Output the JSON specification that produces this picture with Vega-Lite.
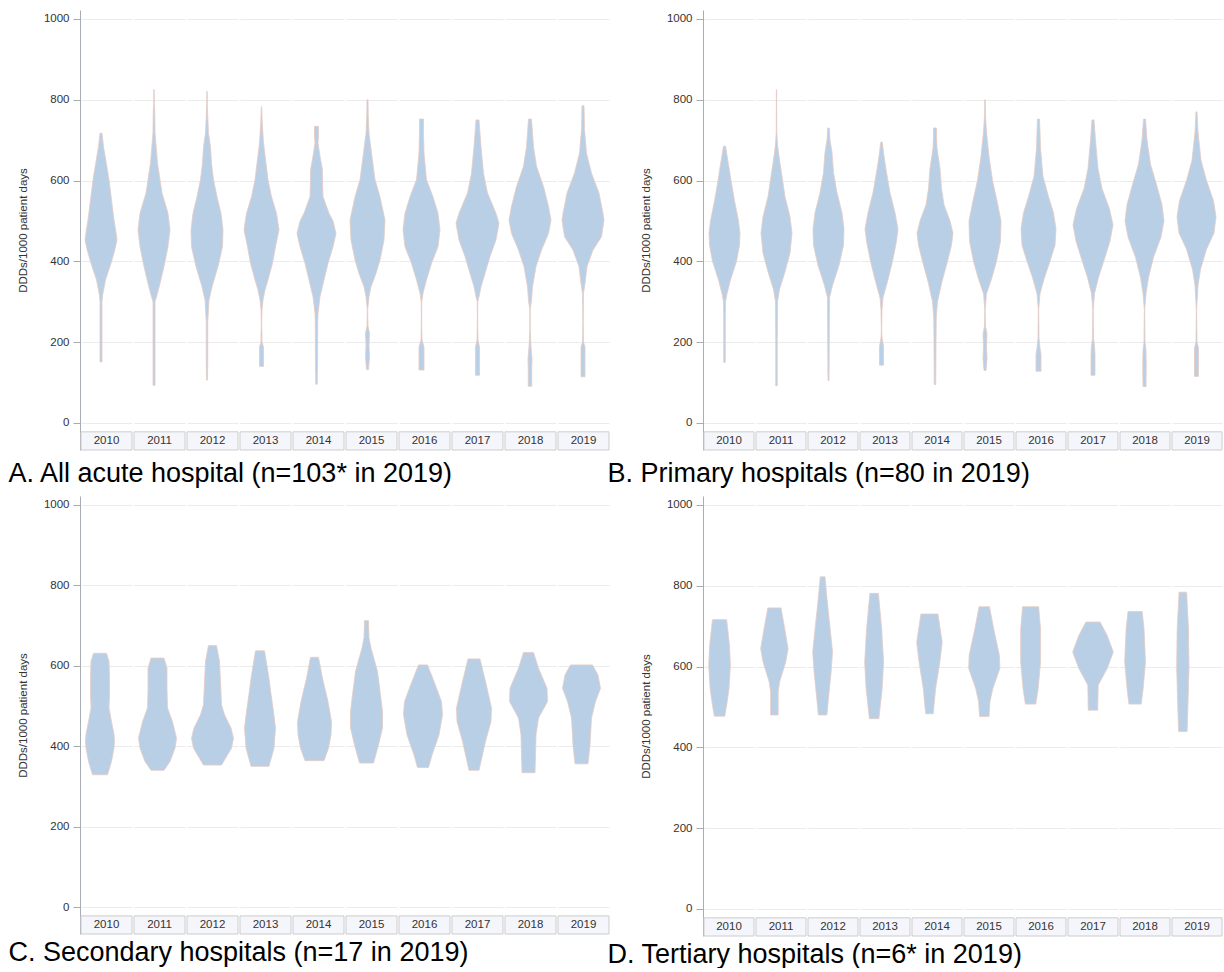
{
  "$schema": "https://vega.github.io/schema/vega-lite/v6.json",
  "padding": {"left": 8, "top": 10, "right": 0, "bottom": 0},
  "background": "white",
  "config": {
    "view": {"stroke": null},
    "axis": {"labelFont": "Liberation Sans", "labelFontSize": 11.5, "labelColor": "#333333", "titleFont": "Liberation Sans", "titleFontSize": 11.5, "titleFontWeight": "normal", "titleColor": "#333333", "domainColor": "#a8adb3", "tickColor": "#a8adb3", "tickSize": 7, "labelPadding": 4, "titlePadding": 15, "gridColor": "#ebebeb"},
    "title": {"font": "Liberation Sans", "fontSize": 27, "fontWeight": "normal", "color": "#000000"}
  },
  "datasets": {
    "A": [
      {"year":2010,"v":151,"w":2},{"year":2010,"v":200,"w":2},{"year":2010,"v":250,"w":2},{"year":2010,"v":300,"w":2},{"year":2010,"v":315,"w":3},{"year":2010,"v":354,"w":9},{"year":2010,"v":380,"w":16},{"year":2010,"v":403,"w":22},{"year":2010,"v":430,"w":28},{"year":2010,"v":453,"w":32},{"year":2010,"v":480,"w":29},{"year":2010,"v":502,"w":26},{"year":2010,"v":552,"w":21},{"year":2010,"v":602,"w":16},{"year":2010,"v":640,"w":11},{"year":2010,"v":684,"w":5},{"year":2010,"v":717,"w":2},
      {"year":2011,"v":93,"w":2},{"year":2011,"v":200,"w":2},{"year":2011,"v":300,"w":2},{"year":2011,"v":304,"w":3},{"year":2011,"v":321,"w":7},{"year":2011,"v":345,"w":12},{"year":2011,"v":387,"w":20},{"year":2011,"v":436,"w":28},{"year":2011,"v":478,"w":32},{"year":2011,"v":519,"w":28},{"year":2011,"v":569,"w":16},{"year":2011,"v":602,"w":12},{"year":2011,"v":643,"w":7},{"year":2011,"v":688,"w":4},{"year":2011,"v":720,"w":2},{"year":2011,"v":771,"w":1.5},{"year":2011,"v":790,"w":0.5},{"year":2011,"v":825,"w":0.3},
      {"year":2012,"v":106,"w":1},{"year":2012,"v":150,"w":1.5},{"year":2012,"v":250,"w":1.5},{"year":2012,"v":304,"w":4},{"year":2012,"v":337,"w":10},{"year":2012,"v":387,"w":22},{"year":2012,"v":436,"w":31},{"year":2012,"v":478,"w":32},{"year":2012,"v":519,"w":28},{"year":2012,"v":560,"w":20},{"year":2012,"v":602,"w":13},{"year":2012,"v":643,"w":9},{"year":2012,"v":684,"w":7},{"year":2012,"v":717,"w":3},{"year":2012,"v":759,"w":1.5},{"year":2012,"v":790,"w":0.5},{"year":2012,"v":821,"w":0.3},
      {"year":2013,"v":140,"w":4},{"year":2013,"v":155,"w":4},{"year":2013,"v":188,"w":4},{"year":2013,"v":200,"w":1},{"year":2013,"v":222,"w":1},{"year":2013,"v":240,"w":0.3},{"year":2013,"v":280,"w":1},{"year":2013,"v":304,"w":3},{"year":2013,"v":329,"w":7},{"year":2013,"v":354,"w":13},{"year":2013,"v":395,"w":22},{"year":2013,"v":436,"w":28},{"year":2013,"v":478,"w":35},{"year":2013,"v":519,"w":30},{"year":2013,"v":560,"w":20},{"year":2013,"v":602,"w":13},{"year":2013,"v":643,"w":9},{"year":2013,"v":693,"w":4},{"year":2013,"v":742,"w":1.5},{"year":2013,"v":783,"w":0.3},
      {"year":2014,"v":96,"w":1.5},{"year":2014,"v":150,"w":2},{"year":2014,"v":250,"w":2.5},{"year":2014,"v":271,"w":3},{"year":2014,"v":312,"w":7},{"year":2014,"v":354,"w":15},{"year":2014,"v":395,"w":23},{"year":2014,"v":436,"w":33},{"year":2014,"v":469,"w":39},{"year":2014,"v":500,"w":33},{"year":2014,"v":519,"w":25},{"year":2014,"v":560,"w":13},{"year":2014,"v":600,"w":12},{"year":2014,"v":626,"w":12},{"year":2014,"v":660,"w":7},{"year":2014,"v":693,"w":3},{"year":2014,"v":710,"w":4},{"year":2014,"v":734,"w":4},
      {"year":2015,"v":132,"w":2},{"year":2015,"v":164,"w":4},{"year":2015,"v":190,"w":3},{"year":2015,"v":222,"w":4},{"year":2015,"v":240,"w":1},{"year":2015,"v":280,"w":0.3},{"year":2015,"v":312,"w":3},{"year":2015,"v":337,"w":7},{"year":2015,"v":370,"w":17},{"year":2015,"v":403,"w":25},{"year":2015,"v":453,"w":33},{"year":2015,"v":502,"w":35},{"year":2015,"v":560,"w":25},{"year":2015,"v":602,"w":15},{"year":2015,"v":668,"w":8},{"year":2015,"v":717,"w":3},{"year":2015,"v":760,"w":1.5},{"year":2015,"v":800,"w":1},
      {"year":2016,"v":131,"w":5},{"year":2016,"v":160,"w":5},{"year":2016,"v":188,"w":5},{"year":2016,"v":205,"w":1},{"year":2016,"v":250,"w":0.3},{"year":2016,"v":300,"w":0.5},{"year":2016,"v":321,"w":3},{"year":2016,"v":354,"w":10},{"year":2016,"v":395,"w":20},{"year":2016,"v":436,"w":33},{"year":2016,"v":478,"w":37},{"year":2016,"v":519,"w":33},{"year":2016,"v":560,"w":23},{"year":2016,"v":602,"w":10},{"year":2016,"v":668,"w":5},{"year":2016,"v":720,"w":4},{"year":2016,"v":752,"w":4},
      {"year":2017,"v":118,"w":4},{"year":2017,"v":150,"w":4},{"year":2017,"v":188,"w":4},{"year":2017,"v":205,"w":1},{"year":2017,"v":250,"w":0.3},{"year":2017,"v":300,"w":0.5},{"year":2017,"v":312,"w":3},{"year":2017,"v":337,"w":7},{"year":2017,"v":370,"w":15},{"year":2017,"v":412,"w":25},{"year":2017,"v":453,"w":37},{"year":2017,"v":494,"w":43},{"year":2017,"v":519,"w":37},{"year":2017,"v":569,"w":20},{"year":2017,"v":618,"w":12},{"year":2017,"v":684,"w":7},{"year":2017,"v":750,"w":3},
      {"year":2018,"v":91,"w":3.5},{"year":2018,"v":130,"w":3.5},{"year":2018,"v":160,"w":4},{"year":2018,"v":188,"w":2},{"year":2018,"v":230,"w":0.3},{"year":2018,"v":280,"w":0.3},{"year":2018,"v":304,"w":3},{"year":2018,"v":337,"w":5},{"year":2018,"v":387,"w":12},{"year":2018,"v":428,"w":23},{"year":2018,"v":469,"w":37},{"year":2018,"v":502,"w":42},{"year":2018,"v":536,"w":37},{"year":2018,"v":585,"w":27},{"year":2018,"v":635,"w":13},{"year":2018,"v":684,"w":7},{"year":2018,"v":752,"w":3},
      {"year":2019,"v":114,"w":4},{"year":2019,"v":150,"w":4},{"year":2019,"v":188,"w":4},{"year":2019,"v":200,"w":1},{"year":2019,"v":250,"w":0.3},{"year":2019,"v":321,"w":1},{"year":2019,"v":345,"w":4},{"year":2019,"v":387,"w":8},{"year":2019,"v":428,"w":20},{"year":2019,"v":461,"w":37},{"year":2019,"v":502,"w":42},{"year":2019,"v":519,"w":40},{"year":2019,"v":569,"w":32},{"year":2019,"v":618,"w":17},{"year":2019,"v":668,"w":7},{"year":2019,"v":726,"w":3},{"year":2019,"v":785,"w":2}
    ],
    "B": [
      {"year":2010,"v":150,"w":1.5},{"year":2010,"v":250,"w":1.5},{"year":2010,"v":300,"w":2},{"year":2010,"v":320,"w":5},{"year":2010,"v":354,"w":12},{"year":2010,"v":400,"w":24},{"year":2010,"v":440,"w":30},{"year":2010,"v":470,"w":31},{"year":2010,"v":500,"w":28},{"year":2010,"v":550,"w":20},{"year":2010,"v":600,"w":13},{"year":2010,"v":640,"w":8},{"year":2010,"v":685,"w":2},
      {"year":2011,"v":92,"w":1.5},{"year":2011,"v":200,"w":1.5},{"year":2011,"v":300,"w":2},{"year":2011,"v":330,"w":6},{"year":2011,"v":370,"w":16},{"year":2011,"v":420,"w":27},{"year":2011,"v":470,"w":31},{"year":2011,"v":510,"w":27},{"year":2011,"v":560,"w":17},{"year":2011,"v":610,"w":11},{"year":2011,"v":660,"w":5},{"year":2011,"v":690,"w":2},{"year":2011,"v":720,"w":0.5},{"year":2011,"v":825,"w":0.3},
      {"year":2012,"v":105,"w":1},{"year":2012,"v":200,"w":1.5},{"year":2012,"v":310,"w":2},{"year":2012,"v":340,"w":8},{"year":2012,"v":390,"w":21},{"year":2012,"v":440,"w":30},{"year":2012,"v":480,"w":31},{"year":2012,"v":520,"w":27},{"year":2012,"v":570,"w":17},{"year":2012,"v":620,"w":10},{"year":2012,"v":670,"w":7},{"year":2012,"v":700,"w":3},{"year":2012,"v":730,"w":1.5},
      {"year":2013,"v":143,"w":4},{"year":2013,"v":160,"w":4},{"year":2013,"v":190,"w":4},{"year":2013,"v":210,"w":1},{"year":2013,"v":230,"w":0.3},{"year":2013,"v":280,"w":1},{"year":2013,"v":310,"w":3},{"year":2013,"v":350,"w":12},{"year":2013,"v":400,"w":22},{"year":2013,"v":450,"w":30},{"year":2013,"v":480,"w":33},{"year":2013,"v":520,"w":27},{"year":2013,"v":570,"w":17},{"year":2013,"v":620,"w":10},{"year":2013,"v":660,"w":5},{"year":2013,"v":695,"w":1.5},
      {"year":2014,"v":95,"w":1.5},{"year":2014,"v":200,"w":2},{"year":2014,"v":260,"w":2.5},{"year":2014,"v":300,"w":5},{"year":2014,"v":350,"w":14},{"year":2014,"v":400,"w":25},{"year":2014,"v":440,"w":33},{"year":2014,"v":470,"w":36},{"year":2014,"v":500,"w":30},{"year":2014,"v":540,"w":18},{"year":2014,"v":580,"w":13},{"year":2014,"v":630,"w":10},{"year":2014,"v":680,"w":4},{"year":2014,"v":710,"w":3},{"year":2014,"v":730,"w":3},
      {"year":2015,"v":130,"w":2},{"year":2015,"v":160,"w":4},{"year":2015,"v":190,"w":3},{"year":2015,"v":220,"w":4},{"year":2015,"v":240,"w":1},{"year":2015,"v":280,"w":0.3},{"year":2015,"v":320,"w":3},{"year":2015,"v":360,"w":14},{"year":2015,"v":400,"w":23},{"year":2015,"v":450,"w":31},{"year":2015,"v":500,"w":32},{"year":2015,"v":550,"w":24},{"year":2015,"v":600,"w":15},{"year":2015,"v":660,"w":8},{"year":2015,"v":720,"w":3},{"year":2015,"v":760,"w":1},{"year":2015,"v":800,"w":0.5},
      {"year":2016,"v":128,"w":5},{"year":2016,"v":170,"w":5},{"year":2016,"v":185,"w":3},{"year":2016,"v":210,"w":1},{"year":2016,"v":280,"w":0.3},{"year":2016,"v":320,"w":3},{"year":2016,"v":360,"w":12},{"year":2016,"v":400,"w":23},{"year":2016,"v":440,"w":33},{"year":2016,"v":480,"w":35},{"year":2016,"v":520,"w":30},{"year":2016,"v":560,"w":20},{"year":2016,"v":610,"w":9},{"year":2016,"v":680,"w":4},{"year":2016,"v":720,"w":3},{"year":2016,"v":752,"w":2},
      {"year":2017,"v":118,"w":4},{"year":2017,"v":170,"w":4},{"year":2017,"v":190,"w":3},{"year":2017,"v":210,"w":1},{"year":2017,"v":280,"w":0.3},{"year":2017,"v":320,"w":3},{"year":2017,"v":360,"w":11},{"year":2017,"v":410,"w":24},{"year":2017,"v":450,"w":34},{"year":2017,"v":490,"w":40},{"year":2017,"v":530,"w":33},{"year":2017,"v":580,"w":18},{"year":2017,"v":630,"w":10},{"year":2017,"v":700,"w":5},{"year":2017,"v":750,"w":2},
      {"year":2018,"v":90,"w":3},{"year":2018,"v":140,"w":3.5},{"year":2018,"v":180,"w":3},{"year":2018,"v":200,"w":1},{"year":2018,"v":280,"w":0.3},{"year":2018,"v":320,"w":3},{"year":2018,"v":360,"w":8},{"year":2018,"v":410,"w":18},{"year":2018,"v":460,"w":33},{"year":2018,"v":500,"w":39},{"year":2018,"v":540,"w":35},{"year":2018,"v":590,"w":24},{"year":2018,"v":640,"w":12},{"year":2018,"v":700,"w":5},{"year":2018,"v":752,"w":2},
      {"year":2019,"v":115,"w":4},{"year":2019,"v":150,"w":4},{"year":2019,"v":185,"w":4},{"year":2019,"v":200,"w":1},{"year":2019,"v":280,"w":0.3},{"year":2019,"v":340,"w":3},{"year":2019,"v":380,"w":8},{"year":2019,"v":430,"w":20},{"year":2019,"v":470,"w":35},{"year":2019,"v":510,"w":39},{"year":2019,"v":550,"w":34},{"year":2019,"v":600,"w":20},{"year":2019,"v":650,"w":9},{"year":2019,"v":720,"w":3},{"year":2019,"v":770,"w":1}
    ],
    "C": [
      {"year":2010,"v":329,"w":15},{"year":2010,"v":362,"w":23},{"year":2010,"v":395,"w":28},{"year":2010,"v":412,"w":29},{"year":2010,"v":430,"w":28},{"year":2010,"v":461,"w":23},{"year":2010,"v":495,"w":18},{"year":2010,"v":528,"w":19},{"year":2010,"v":570,"w":19},{"year":2010,"v":611,"w":18},{"year":2010,"v":631,"w":13},
      {"year":2011,"v":340,"w":13},{"year":2011,"v":362,"w":25},{"year":2011,"v":395,"w":35},{"year":2011,"v":420,"w":38},{"year":2011,"v":461,"w":30},{"year":2011,"v":495,"w":20},{"year":2011,"v":540,"w":19},{"year":2011,"v":594,"w":19},{"year":2011,"v":619,"w":13},
      {"year":2012,"v":353,"w":18},{"year":2012,"v":395,"w":38},{"year":2012,"v":420,"w":42},{"year":2012,"v":445,"w":37},{"year":2012,"v":478,"w":24},{"year":2012,"v":503,"w":18},{"year":2012,"v":560,"w":16},{"year":2012,"v":611,"w":14},{"year":2012,"v":650,"w":8},
      {"year":2013,"v":350,"w":18},{"year":2013,"v":395,"w":28},{"year":2013,"v":445,"w":31},{"year":2013,"v":486,"w":27},{"year":2013,"v":530,"w":22},{"year":2013,"v":569,"w":18},{"year":2013,"v":637,"w":9},
      {"year":2014,"v":364,"w":19},{"year":2014,"v":395,"w":28},{"year":2014,"v":428,"w":33},{"year":2014,"v":461,"w":34},{"year":2014,"v":511,"w":27},{"year":2014,"v":569,"w":16},{"year":2014,"v":621,"w":8},
      {"year":2015,"v":358,"w":14},{"year":2015,"v":403,"w":24},{"year":2015,"v":445,"w":32},{"year":2015,"v":486,"w":32},{"year":2015,"v":528,"w":28},{"year":2015,"v":586,"w":22},{"year":2015,"v":644,"w":9},{"year":2015,"v":670,"w":5},{"year":2015,"v":712,"w":4},
      {"year":2016,"v":347,"w":11},{"year":2016,"v":378,"w":18},{"year":2016,"v":428,"w":32},{"year":2016,"v":478,"w":39},{"year":2016,"v":511,"w":37},{"year":2016,"v":561,"w":22},{"year":2016,"v":602,"w":9},
      {"year":2017,"v":340,"w":10},{"year":2017,"v":362,"w":14},{"year":2017,"v":412,"w":23},{"year":2017,"v":461,"w":34},{"year":2017,"v":495,"w":35},{"year":2017,"v":561,"w":23},{"year":2017,"v":617,"w":12},
      {"year":2018,"v":334,"w":13},{"year":2018,"v":428,"w":15},{"year":2018,"v":470,"w":20},{"year":2018,"v":511,"w":38},{"year":2018,"v":544,"w":37},{"year":2018,"v":594,"w":20},{"year":2018,"v":633,"w":10},
      {"year":2019,"v":356,"w":13},{"year":2019,"v":403,"w":17},{"year":2019,"v":470,"w":20},{"year":2019,"v":511,"w":28},{"year":2019,"v":544,"w":38},{"year":2019,"v":577,"w":33},{"year":2019,"v":602,"w":22}
    ],
    "D": [
      {"year":2010,"v":477,"w":11},{"year":2010,"v":504,"w":15},{"year":2010,"v":545,"w":20},{"year":2010,"v":603,"w":23},{"year":2010,"v":652,"w":21},{"year":2010,"v":716,"w":15},
      {"year":2011,"v":480,"w":8},{"year":2011,"v":537,"w":8},{"year":2011,"v":562,"w":11},{"year":2011,"v":611,"w":24},{"year":2011,"v":644,"w":29},{"year":2011,"v":693,"w":22},{"year":2011,"v":745,"w":14},
      {"year":2012,"v":480,"w":9},{"year":2012,"v":529,"w":13},{"year":2012,"v":586,"w":18},{"year":2012,"v":636,"w":21},{"year":2012,"v":693,"w":16},{"year":2012,"v":759,"w":10},{"year":2012,"v":822,"w":5},
      {"year":2013,"v":471,"w":10},{"year":2013,"v":545,"w":17},{"year":2013,"v":611,"w":20},{"year":2013,"v":693,"w":16},{"year":2013,"v":781,"w":9},
      {"year":2014,"v":483,"w":8},{"year":2014,"v":545,"w":13},{"year":2014,"v":611,"w":22},{"year":2014,"v":660,"w":27},{"year":2014,"v":730,"w":18},
      {"year":2015,"v":476,"w":10},{"year":2015,"v":513,"w":12},{"year":2015,"v":545,"w":18},{"year":2015,"v":595,"w":33},{"year":2015,"v":628,"w":32},{"year":2015,"v":693,"w":20},{"year":2015,"v":748,"w":11},
      {"year":2016,"v":507,"w":11},{"year":2016,"v":545,"w":16},{"year":2016,"v":611,"w":21},{"year":2016,"v":693,"w":21},{"year":2016,"v":748,"w":17},
      {"year":2017,"v":492,"w":10},{"year":2017,"v":554,"w":11},{"year":2017,"v":595,"w":30},{"year":2017,"v":636,"w":43},{"year":2017,"v":677,"w":30},{"year":2017,"v":710,"w":15},
      {"year":2018,"v":507,"w":13},{"year":2018,"v":545,"w":17},{"year":2018,"v":611,"w":22},{"year":2018,"v":693,"w":19},{"year":2018,"v":736,"w":15},
      {"year":2019,"v":439,"w":9},{"year":2019,"v":513,"w":11},{"year":2019,"v":595,"w":13},{"year":2019,"v":693,"w":12},{"year":2019,"v":784,"w":8}
    ]
  },
  "columns": 2,
  "spacing": {"column": -3, "row": 9},
  "concat": [
    {
      "data": {"name": "A"},
      "title": {"text": "A. All acute hospital (n=103* in 2019)", "orient": "bottom", "anchor": "start", "offset": 10, "dx": -9},
      "facet": {"column": {"field": "year", "type": "ordinal", "header": null}},
      "spacing": 0,
      "spec": {
        "width": 51, "height": 440,
        "layer": [
          {"mark": {"type": "area", "orient": "horizontal", "fill": "#b9cfe6", "stroke": "#e6cbc4", "strokeWidth": 0.8},
           "encoding": {
             "y": {"field": "v", "type": "quantitative", "scale": {"domain": [-67, 1022], "nice": false, "zero": false}, "axis": {"values": [0,200,400,600,800,1000], "format": "d", "title": "DDDs/1000 patient days", "grid": true}},
             "x": {"field": "w", "type": "quantitative", "stack": "center", "axis": null, "scale": {"padding": 4, "nice": false}}
           }},
          {"transform": [{"aggregate": [{"op": "count", "as": "n"}], "groupby": ["year"]}],
           "mark": {"type": "rect", "fill": "#f5f6fb", "stroke": "#cdcdcd", "strokeWidth": 1},
           "encoding": {"y": {"datum": -22}, "y2": {"datum": -67}}},
          {"transform": [{"aggregate": [{"op": "count", "as": "n"}], "groupby": ["year"]}],
           "mark": {"type": "text", "font": "Liberation Sans", "fontSize": 11.5, "color": "#333333"},
           "encoding": {"y": {"datum": -44.5}, "text": {"field": "year", "type": "nominal"}}}
        ]
      }
    },
    {
      "data": {"name": "B"},
      "title": {"text": "B. Primary hospitals (n=80 in 2019)", "orient": "bottom", "anchor": "start", "offset": 10, "dx": -33},
      "facet": {"column": {"field": "year", "type": "ordinal", "header": null}},
      "spacing": 0,
      "spec": {
        "width": 50, "height": 440,
        "layer": [
          {"mark": {"type": "area", "orient": "horizontal", "fill": "#b9cfe6", "stroke": "#e6cbc4", "strokeWidth": 0.8},
           "encoding": {
             "y": {"field": "v", "type": "quantitative", "scale": {"domain": [-67, 1022], "nice": false, "zero": false}, "axis": {"values": [0,200,400,600,800,1000], "format": "d", "title": "DDDs/1000 patient days", "grid": true}},
             "x": {"field": "w", "type": "quantitative", "stack": "center", "axis": null, "scale": {"padding": 5, "nice": false}}
           }},
          {"transform": [{"aggregate": [{"op": "count", "as": "n"}], "groupby": ["year"]}],
           "mark": {"type": "rect", "fill": "#f5f6fb", "stroke": "#cdcdcd", "strokeWidth": 1},
           "encoding": {"y": {"datum": -22}, "y2": {"datum": -67}}},
          {"transform": [{"aggregate": [{"op": "count", "as": "n"}], "groupby": ["year"]}],
           "mark": {"type": "text", "font": "Liberation Sans", "fontSize": 11.5, "color": "#333333"},
           "encoding": {"y": {"datum": -44.5}, "text": {"field": "year", "type": "nominal"}}}
        ]
      }
    },
    {
      "data": {"name": "C"},
      "title": {"text": "C. Secondary hospitals (n=17 in 2019)", "orient": "bottom", "anchor": "start", "offset": 5, "dx": -9},
      "facet": {"column": {"field": "year", "type": "ordinal", "header": null}},
      "spacing": 0,
      "spec": {
        "width": 51, "height": 438,
        "layer": [
          {"mark": {"type": "area", "orient": "horizontal", "fill": "#b9cfe6", "stroke": "#e6cbc4", "strokeWidth": 0.8},
           "encoding": {
             "y": {"field": "v", "type": "quantitative", "scale": {"domain": [-67, 1022], "nice": false, "zero": false}, "axis": {"values": [0,200,400,600,800,1000], "format": "d", "title": "DDDs/1000 patient days", "grid": true}},
             "x": {"field": "w", "type": "quantitative", "stack": "center", "axis": null, "scale": {"padding": 4.5, "nice": false}}
           }},
          {"transform": [{"aggregate": [{"op": "count", "as": "n"}], "groupby": ["year"]}],
           "mark": {"type": "rect", "fill": "#f5f6fb", "stroke": "#cdcdcd", "strokeWidth": 1},
           "encoding": {"y": {"datum": -22}, "y2": {"datum": -67}}},
          {"transform": [{"aggregate": [{"op": "count", "as": "n"}], "groupby": ["year"]}],
           "mark": {"type": "text", "font": "Liberation Sans", "fontSize": 11.5, "color": "#333333"},
           "encoding": {"y": {"datum": -44.5}, "text": {"field": "year", "type": "nominal"}}}
        ]
      }
    },
    {
      "data": {"name": "D"},
      "title": {"text": "D. Tertiary hospitals (n=6* in 2019)", "orient": "bottom", "anchor": "start", "offset": 5, "dx": -33},
      "facet": {"column": {"field": "year", "type": "ordinal", "header": null}},
      "spacing": 0,
      "spec": {
        "width": 50, "height": 440,
        "layer": [
          {"mark": {"type": "area", "orient": "horizontal", "fill": "#b9cfe6", "stroke": "#e6cbc4", "strokeWidth": 0.8},
           "encoding": {
             "y": {"field": "v", "type": "quantitative", "scale": {"domain": [-67, 1022], "nice": false, "zero": false}, "axis": {"values": [0,200,400,600,800,1000], "format": "d", "title": "DDDs/1000 patient days", "grid": true}},
             "x": {"field": "w", "type": "quantitative", "stack": "center", "axis": null, "scale": {"padding": 4.7, "nice": false}}
           }},
          {"transform": [{"aggregate": [{"op": "count", "as": "n"}], "groupby": ["year"]}],
           "mark": {"type": "rect", "fill": "#f5f6fb", "stroke": "#cdcdcd", "strokeWidth": 1},
           "encoding": {"y": {"datum": -22}, "y2": {"datum": -67}}},
          {"transform": [{"aggregate": [{"op": "count", "as": "n"}], "groupby": ["year"]}],
           "mark": {"type": "text", "font": "Liberation Sans", "fontSize": 11.5, "color": "#333333"},
           "encoding": {"y": {"datum": -44.5}, "text": {"field": "year", "type": "nominal"}}}
        ]
      }
    }
  ]
}
